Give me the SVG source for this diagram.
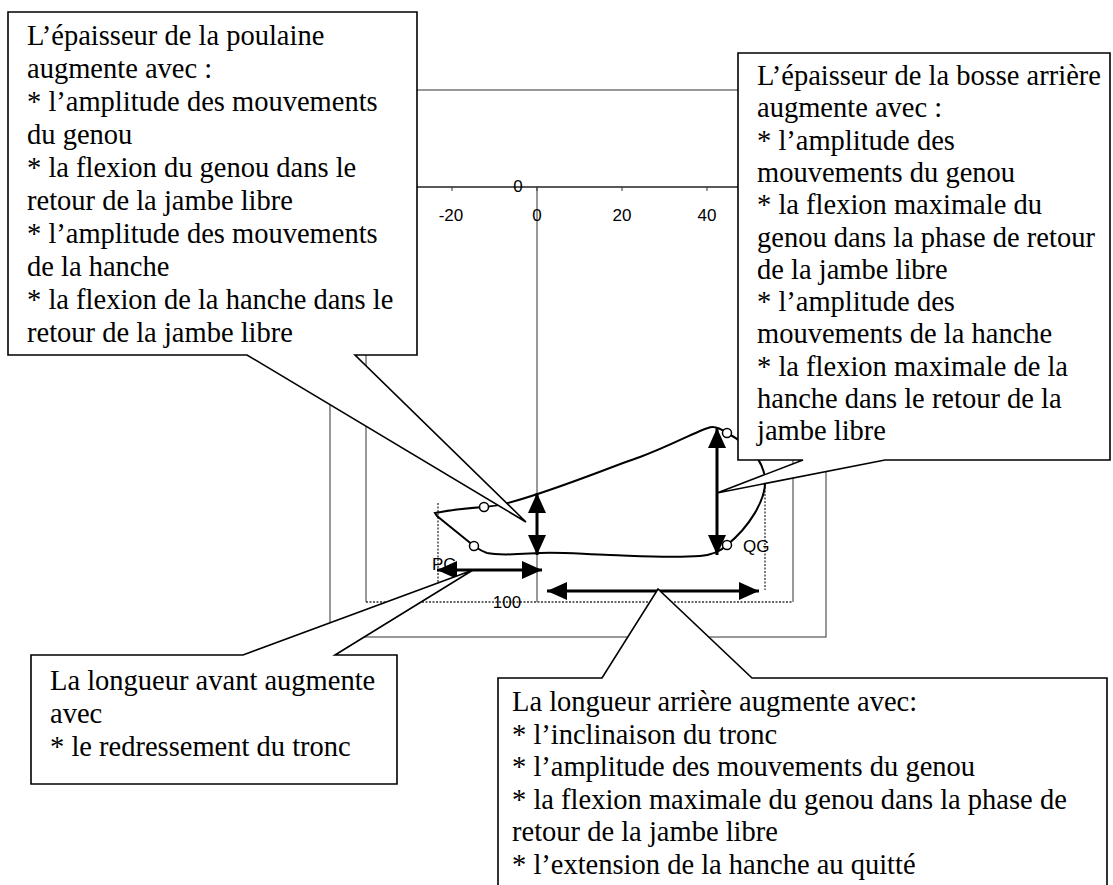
<svg xmlns="http://www.w3.org/2000/svg" width="1113" height="885" viewBox="0 0 1113 885">
<style>
.bg{fill:#fff}
.frame{fill:none;stroke:#333;stroke-width:1}
.axis{fill:none;stroke:#222;stroke-width:1.4}
.dot{fill:none;stroke:#333;stroke-width:1.3;stroke-dasharray:2 1.5}
.curve{fill:none;stroke:#000;stroke-width:2}
.pt{fill:#fff;stroke:#000;stroke-width:1.5}
.arr{fill:none;stroke:#000;stroke-width:3;marker-start:url(#ah);marker-end:url(#ah)}
.box{fill:#fff;stroke:#000;stroke-width:1.6}
.t{font-family:"Liberation Serif","Times New Roman",serif;font-size:28.5px;fill:#000}
.lbl{font-family:"Liberation Sans",Arial,sans-serif;font-size:17px;fill:#000}
</style>
<defs>
<marker id="ah" viewBox="0 0 20 18" refX="20" refY="9" markerWidth="20" markerHeight="18" markerUnits="userSpaceOnUse" orient="auto-start-reverse">
<path d="M0,0 L20,9 L0,18 Z" fill="#000"/>
</marker>
</defs>
<rect class="bg" x="0" y="0" width="1113" height="885"/>

<g id="chart">
<rect class="frame" x="330" y="90" width="496" height="547"/>
<line class="frame" x1="366" y1="187" x2="366" y2="602" stroke-width="1.3"/>
<line class="dot" x1="366" y1="602" x2="793" y2="602"/>
<line class="frame" x1="793" y1="187" x2="793" y2="602"/>
<line class="axis" x1="366" y1="187" x2="793" y2="187"/>
<path class="frame" d="M452,187 v4 M537,187 v4 M622,187 v4 M707,187 v4"/>
<line class="frame" x1="537" y1="187" x2="537" y2="602"/>
<line class="dot" x1="438" y1="503" x2="438" y2="582"/>
<line class="dot" x1="765" y1="487" x2="765" y2="590"/>
<text class="lbl" x="518" y="192" text-anchor="middle">0</text>
<text class="lbl" x="451" y="221" text-anchor="middle">-20</text>
<text class="lbl" x="537" y="221" text-anchor="middle">0</text>
<text class="lbl" x="622" y="221" text-anchor="middle">20</text>
<text class="lbl" x="707" y="221" text-anchor="middle">40</text>
<text class="lbl" x="507" y="608" text-anchor="middle">100</text>
<text class="lbl" x="432" y="570">PG</text>
<text class="lbl" x="743" y="552">QG</text>
<path class="curve" d="M435,513 C450,510 470,508 484,507 C498,506 505,504 515,501 C560,488 600,471 640,457 C670,446 695,432 708,428 C714,425 720,428 727,433 C742,441 762,455 765,478 C767,500 748,528 727,545 C720,552 712,555 700,556 C670,558 640,556 610,555 C580,554 560,552 540,553 C520,554 500,556 487,553 C481,551 477,548 474,546 L437,516 Z"/>
<circle class="pt" cx="484" cy="507" r="4.5"/>
<circle class="pt" cx="474" cy="546" r="4.5"/>
<circle class="pt" cx="727" cy="433" r="4.5"/>
<circle class="pt" cx="727" cy="545" r="4.5"/>
</g>

<g id="connectors">
<line class="arr" x1="537" y1="493" x2="537" y2="555"/>
<line class="arr" x1="717" y1="428" x2="717" y2="555"/>
<line class="arr" x1="437" y1="570" x2="542" y2="570"/>
<line class="arr" x1="547" y1="591" x2="759" y2="591"/>
</g>

<g id="callout-poulaine">
<path class="box" d="M8,12 H417 V355 H355 L526,522 L247,355 H8 Z"/>
<text class="t">
<tspan x="27" y="45">L’épaisseur de la poulaine</tspan>
<tspan x="27" y="78">augmente avec :</tspan>
<tspan x="27" y="111">* l’amplitude des mouvements</tspan>
<tspan x="27" y="144">du genou</tspan>
<tspan x="27" y="177">* la flexion du genou dans le</tspan>
<tspan x="27" y="210">retour de la jambe libre</tspan>
<tspan x="27" y="243">* l’amplitude des mouvements</tspan>
<tspan x="27" y="276">de la hanche</tspan>
<tspan x="27" y="309">* la flexion de la hanche dans le</tspan>
<tspan x="27" y="342">retour de la jambe libre</tspan>
</text>
</g>

<g id="callout-bosse">
<path class="box" d="M738,53 H1110 V460 H885 L717,493 L803,460 H738 Z"/>
<text class="t">
<tspan x="757" y="85">L’épaisseur de la bosse arrière</tspan>
<tspan x="757" y="117.3">augmente avec :</tspan>
<tspan x="757" y="149.6">* l’amplitude des</tspan>
<tspan x="757" y="181.9">mouvements du genou</tspan>
<tspan x="757" y="214.2">* la flexion maximale du</tspan>
<tspan x="757" y="246.5">genou dans la phase de retour</tspan>
<tspan x="757" y="278.8">de la jambe libre</tspan>
<tspan x="757" y="311.1">* l’amplitude des</tspan>
<tspan x="757" y="343.4">mouvements de la hanche</tspan>
<tspan x="757" y="375.7">* la flexion maximale de la</tspan>
<tspan x="757" y="408">hanche dans le retour de la</tspan>
<tspan x="757" y="440.3">jambe libre</tspan>
</text>
</g>

<g id="callout-longueur-avant">
<path class="box" d="M31,655 H243 L473,570 L335,655 H397 V784 H31 Z"/>
<text class="t">
<tspan x="50" y="690">La longueur avant augmente</tspan>
<tspan x="50" y="723">avec</tspan>
<tspan x="50" y="756">* le redressement du tronc</tspan>
</text>
</g>

<g id="callout-longueur-arriere">
<path class="box" d="M498,678 H602 L658,589 L752,678 H1107 V892 H498 Z"/>
<text class="t">
<tspan x="512" y="711">La longueur arrière augmente avec:</tspan>
<tspan x="512" y="743.5">* l’inclinaison du tronc</tspan>
<tspan x="512" y="776">* l’amplitude des mouvements du genou</tspan>
<tspan x="512" y="808.5">* la flexion maximale du genou dans la phase de</tspan>
<tspan x="512" y="841">retour de la jambe libre</tspan>
<tspan x="512" y="873.5">* l’extension de la hanche au quitté</tspan>
</text>
</g>
</svg>
